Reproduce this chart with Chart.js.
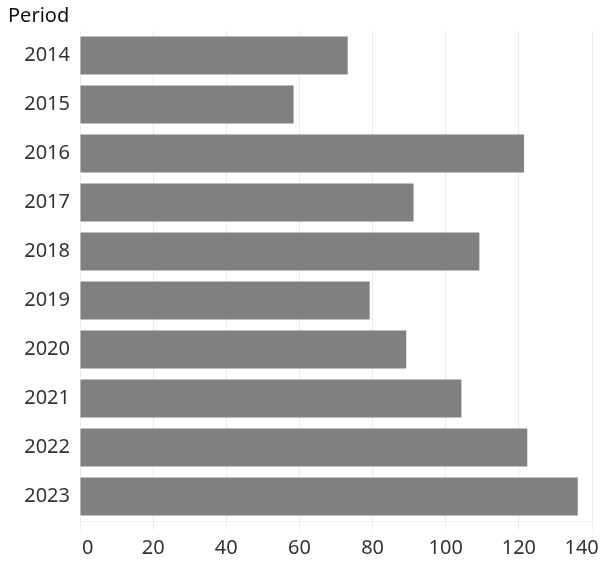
<!DOCTYPE html>
<html>
<head>
<meta charset="utf-8">
<script src="https://cdn.jsdelivr.net/npm/chart.js@4"></script>
<style>
  html, body { margin: 0; padding: 0; background: #fff; }
  #wrap { width: 601px; height: 563px; }
</style>
</head>
<body>
<div id="wrap"><canvas id="myChart" width="601" height="563"></canvas></div>
<script>
// Data
let periods = ['2014', '2015', '2016', '2017', '2018', '2019', '2020', '2021', '2022', '2023'];
let counts = [73.2, 58.4, 121.4, 91.2, 109.2, 79.2, 89.2, 104.3, 122.3, 136.1];
let xTicks = [0, 20, 40, 60, 80, 100, 120, 140];

const FONT = "'Noto Sans', sans-serif";

/**
 * Edge tick labels sit inside the plot like the original,
 * padded with spaces so the centred text shifts inward
 */
function tickLabel(v) {
    if (v === xTicks[0]) return '   ' + v;
    if (v === xTicks[xTicks.length - 1]) return v + '    ';
    return String(v);
}

let ctx = document.getElementById('myChart').getContext('2d');
let myChart = new Chart(ctx, {
    type: 'bar',
    data: {
        labels: periods,
        datasets: [{
            data: counts,
            backgroundColor: '#808080',
            borderWidth: 0,
            barPercentage: 0.776,
            categoryPercentage: 1
        }]
    },
    options: {
        indexAxis: 'y',
        responsive: false,
        animation: false,
        layout: {
            autoPadding: false,
            padding: { left: 8, right: 9, top: 0, bottom: 0 }
        },
        plugins: {
            legend: { display: false },
            tooltip: { enabled: false },
            title: {
                display: true,
                text: 'Period',
                align: 'start',
                color: '#111',
                font: { family: FONT, size: 20, weight: 'normal', lineHeight: 1.15 },
                padding: { top: 5, bottom: 3 }
            }
        },
        scales: {
            y: {
                grid: { display: false, drawTicks: false },
                border: { display: false },
                ticks: {
                    color: '#333',
                    padding: 10,
                    font: { family: FONT, size: 20 }
                },
                afterFit: function (s) { s.width = 72; }
            },
            x: {
                min: 0,
                max: 140,
                afterBuildTicks: function (s) {
                    s.ticks = xTicks.map(v => ({ value: v }));
                },
                grid: {
                    color: '#ececec',
                    lineWidth: 1,
                    drawTicks: true,
                    tickLength: 9
                },
                border: { display: true, color: '#f2f2f2' },
                ticks: {
                    color: '#333',
                    padding: 6,
                    maxRotation: 0,
                    font: { family: FONT, size: 20 },
                    callback: function (v) { return tickLabel(v); }
                },
                afterFit: function (s) {
                    s.height = 42;
                    s.paddingLeft = 0;
                    s.paddingRight = 0;
                }
            }
        }
    }
});
</script>
</body>
</html>
